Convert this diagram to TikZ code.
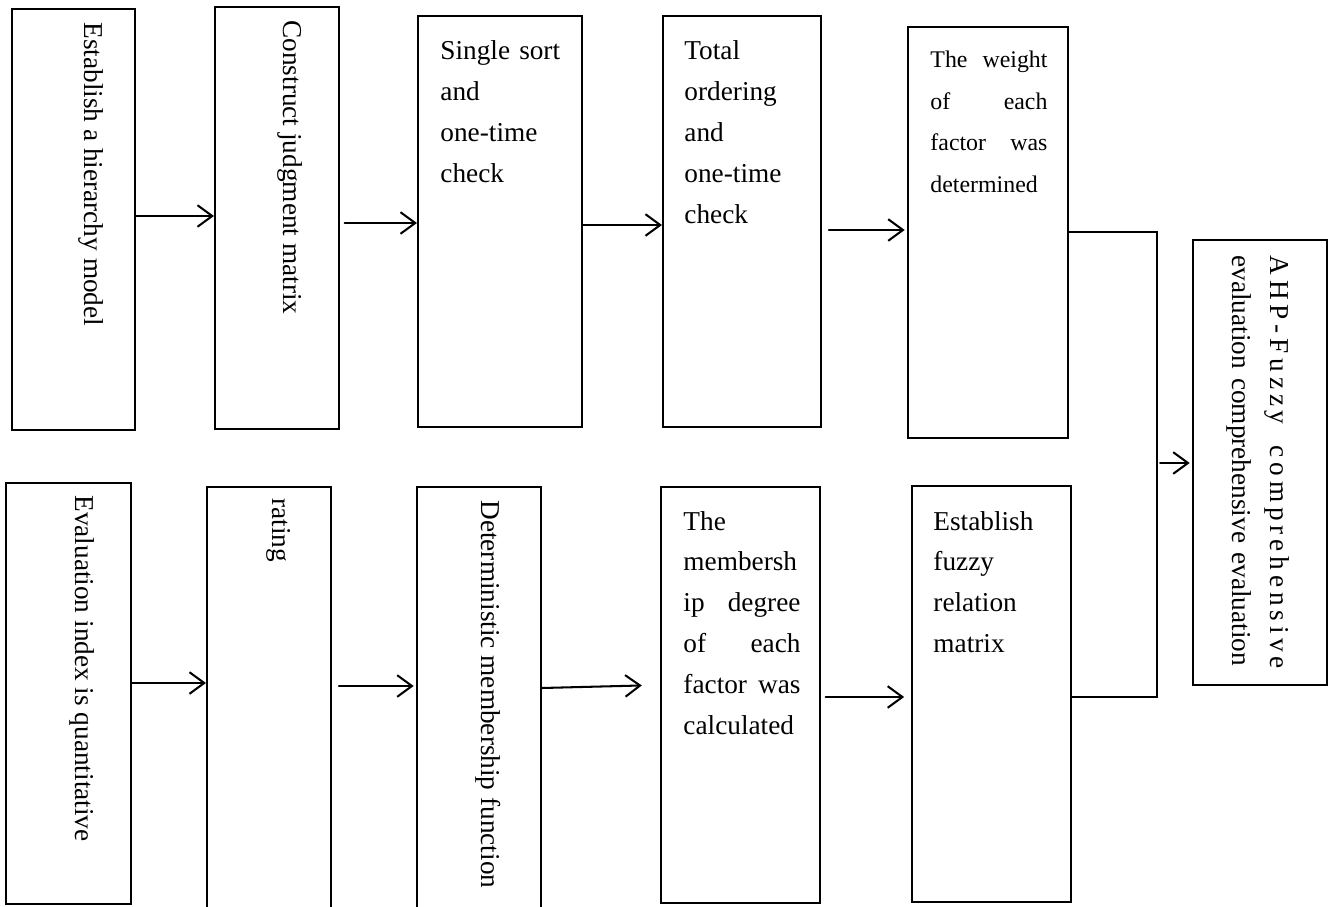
\documentclass[tikz,border=0pt]{standalone}
\usepackage{fontspec}
\setmainfont{Liberation Serif}
\usetikzlibrary{arrows.meta,fit,positioning}

\tikzset{
  stepbox/.style={draw, line width=0.9pt, inner sep=0pt},
  flow/.style={line width=0.9pt, -{Straight Barb[length=6.5pt,width=9.5pt,line width=0.9pt]}},
  vlabel/.style={rotate=-90, anchor=base west, inner sep=0pt, font=\fontsize{12}{16.7}\selectfont},
  hlabel/.style={anchor=base west, inner sep=0pt, align=left, text width=60pt, font=\fontsize{12}{18}\selectfont},
}

\begin{document}
\begin{tikzpicture}[x=0.44pt, y=-0.44pt, line cap=round]
  \useasboundingbox (0,0) rectangle (1328,907);
  % AHP branch (top row)
  \node[stepbox, fit={(12,9) (135,430)}]    (b1) {};
  \node[stepbox, fit={(215,7) (339,429)}]   (b2) {};
  \node[stepbox, fit={(418,16) (582,427)}]  (b3) {};
  \node[stepbox, fit={(663,16) (821,427)}]  (b4) {};
  \node[stepbox, fit={(908,27) (1068,438)}] (b5) {};
  \node[vlabel] (t1) at (84,22)  {Establish a hierarchy model};
  \node[vlabel] (t2) at (283,20) {Construct judgment matrix};
  \node[hlabel] (t3) at (440,60) {Single sort\\and\\one-time\\check};
  \node[hlabel] (t4) at (684,60) {Total\\ordering\\and\\one-time\\check};
  \node[hlabel, text width=51.5pt, font=\fontsize{10.5}{18.2}\selectfont] (t5) at (930,68)
    {The\hfill weight\\of\hfill each\\factor\hfill was\\determined};
  % fuzzy branch (bottom row)
  \node[stepbox, fit={(6,483) (131,904)}]    (c1) {};
  \node[stepbox, fit={(207,487) (331,915)}]  (c2) {};
  \node[stepbox, fit={(417,487) (541,915)}]  (c3) {};
  \node[stepbox, fit={(661,487) (820,903)}]  (c4) {};
  \node[stepbox, fit={(912,486) (1071,902)}] (c5) {};
  \node[vlabel] (u1) at (75,495)  {Evaluation index is quantitative};
  \node[vlabel] (u2) at (272,498) {rating};
  \node[vlabel] (u3) at (481,500) {Deterministic membership function};
  \node[hlabel, text width=51.5pt] (u4) at (683,530)
    {The\\membersh\\ip\hfill degree\\of\hfill each\\factor\hfill was\\calculated};
  \node[hlabel] (u5) at (933,530) {Establish\\fuzzy\\relation\\matrix};
  % result
  \node[stepbox, fit={(1193,240) (1327,685)}] (ahp) {};
  \node[vlabel, text width=182pt, align=left] (ahpt) at (1270,255)
    {\hbox to 182pt{A\hfill H\hfill P\hfill -\hfill F\hfill u\hfill z\hfill z\hfill y\hfill\hspace{5pt}\hfill c\hfill o\hfill m\hfill p\hfill r\hfill e\hfill h\hfill e\hfill n\hfill s\hfill i\hfill v\hfill e}\\evaluation comprehensive evaluation};
  % arrows along each row
  \draw[flow] (b1.east |- 0,216) -- (b2.west |- 0,216);
  \draw[flow, shorten <=2pt] (b2.east |- 0,223) -- (b3.west |- 0,223);
  \draw[flow] (b3.east |- 0,225) -- (b4.west |- 0,225);
  \draw[flow, shorten <=3pt, shorten >=1pt] (b4.east |- 0,230) -- (b5.west |- 0,230);
  \draw[flow] (c1.east |- 0,683) -- (c2.west |- 0,683);
  \draw[flow, shorten <=3pt, shorten >=1pt] (c2.east |- 0,686) -- (c3.west |- 0,686);
  \draw[flow, shorten >=8pt] (c3.east |- 0,688) -- (c4.west |- 0,685);
  \draw[flow, shorten <=2pt, shorten >=3pt] (c4.east |- 0,697) -- (c5.west |- 0,697);
  % bracket joining both rows
  \coordinate (jtop) at (1157,232);
  \coordinate (jbot) at (1157,697);
  \coordinate (jmid) at (1160,463);
  \draw[line width=0.9pt] (b5.east |- jtop) -- (jtop) -- (jbot) -- (c5.east |- jbot);
  \draw[flow, shorten >=1pt] (jmid) -- (ahp.west |- jmid);
\end{tikzpicture}
\end{document}
